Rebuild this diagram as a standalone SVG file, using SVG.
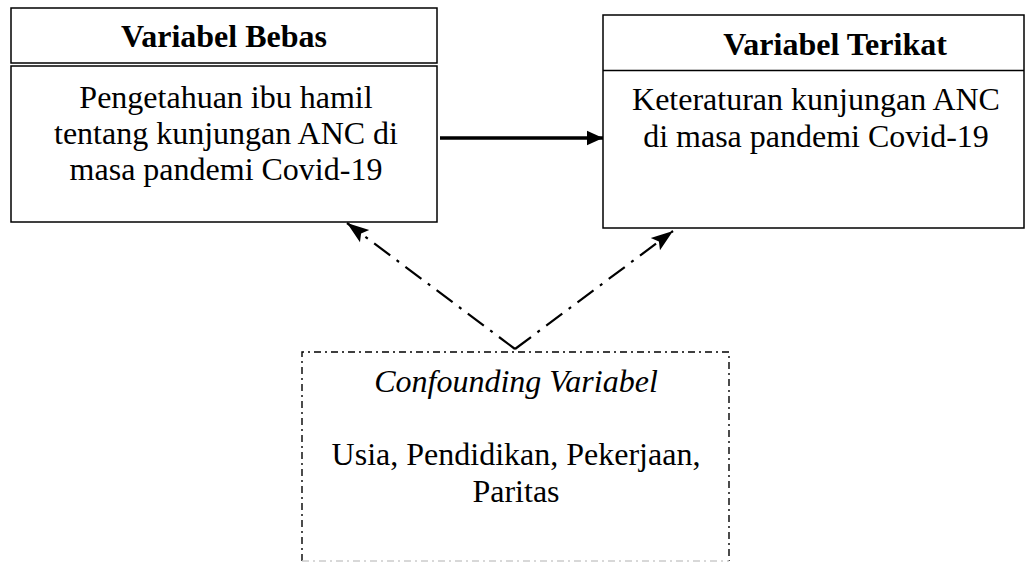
<svg xmlns="http://www.w3.org/2000/svg" width="1026" height="562" viewBox="0 0 1026 562">
<defs>
<style>
.box{fill:#fff;stroke:#000;stroke-width:1.5}
.bd{fill:none;stroke:#000;stroke-width:1.4;stroke-dasharray:7 4 2 4}
.dash{fill:none;stroke:#000;stroke-width:2.2;stroke-dasharray:20 8 3 8}
.t{font-family:"Liberation Serif","Times New Roman",serif;font-size:32px;fill:#000;text-anchor:middle}
.h{font-weight:bold}
.i{font-style:italic}
</style>
<marker id="ah" viewBox="0 0 10 10" refX="10" refY="5" markerWidth="16" markerHeight="16" markerUnits="userSpaceOnUse" orient="auto">
<path d="M0,0.5 L10,5 L0,9.5 z" fill="#000"/>
</marker>
<marker id="ah2" viewBox="0 0 10 10" refX="10" refY="5" markerWidth="22" markerHeight="22" markerUnits="userSpaceOnUse" orient="auto">
<path d="M0,1.5 L10,5 L0,8.5 L2,5 z" fill="#000"/>
</marker>
</defs>
<g id="bebas">
<rect class="box" x="11" y="8" width="426" height="55"/>
<rect class="box" x="11" y="66" width="426" height="156"/>
<text class="t h" x="224" y="47">Variabel Bebas</text>
<text class="t" x="226" y="108">Pengetahuan ibu hamil</text>
<text class="t" x="226" y="144">tentang kunjungan ANC di</text>
<text class="t" x="226" y="180">masa pandemi Covid-19</text>
</g>
<g id="terikat">
<rect class="box" x="603" y="15" width="421" height="213"/>
<line x1="603" y1="70.5" x2="1024" y2="70.5" stroke="#000" stroke-width="1.5"/>
<text class="t h" x="835" y="55">Variabel Terikat</text>
<text class="t" x="816" y="110">Keteraturan kunjungan ANC</text>
<text class="t" x="816" y="147">di masa pandemi Covid-19</text>
</g>
<g id="confounding">
<path class="bd" d="M302,561 L302,352 L729,352 L729,561"/>
<line x1="302" y1="561" x2="729" y2="561" stroke="#ccc" stroke-width="1.4" stroke-dasharray="7 4 2 4"/>
<text class="t i" x="516" y="392">Confounding Variabel</text>
<text class="t" x="516" y="465">Usia, Pendidikan, Pekerjaan,</text>
<text class="t" x="516" y="502">Paritas</text>
</g>
<g id="connectors">
<line x1="440" y1="138" x2="603" y2="138" stroke="#000" stroke-width="3.5" marker-end="url(#ah)"/>
<line class="dash" x1="515" y1="349" x2="347" y2="223" marker-end="url(#ah2)"/>
<line class="dash" x1="515" y1="349" x2="673" y2="231" marker-end="url(#ah2)"/>
</g>
</svg>
